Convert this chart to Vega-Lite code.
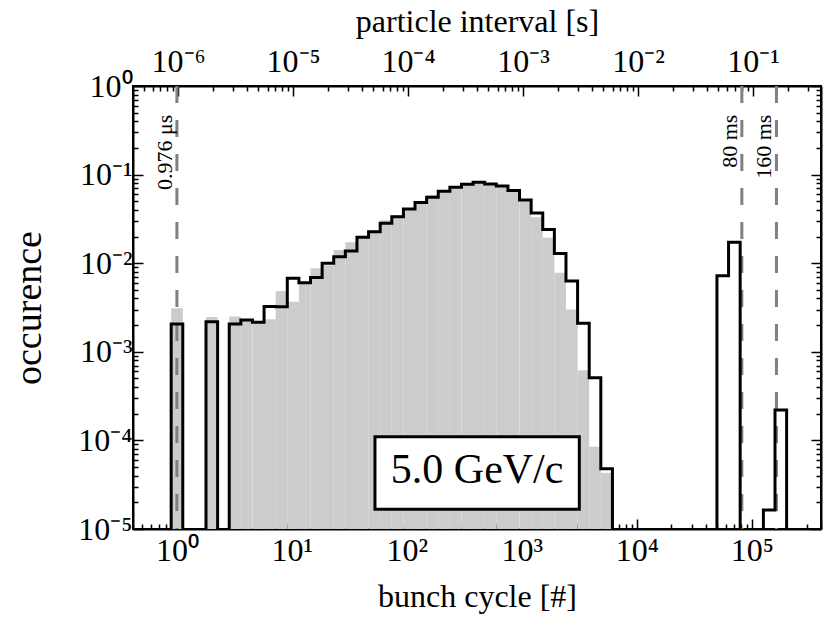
{
  "$schema": "https://vega.github.io/schema/vega-lite/v6.json",
  "width": 688,
  "height": 443,
  "autosize": {"type": "none"},
  "padding": {"left": 133, "top": 86, "right": 9, "bottom": 94},
  "background": "white",
  "config": {
    "view": {"stroke": "black", "strokeWidth": 2},
    "font": "Liberation Serif",
    "axis": {
      "domainColor": "black", "domainWidth": 2, "tickColor": "black", "tickWidth": 1.5,
      "labelFont": "Liberation Serif", "labelFontSize": 32, "labelColor": "black",
      "titleFont": "Liberation Serif", "titleFontSize": 32, "titleFontWeight": "normal", "titleColor": "black",
      "grid": false, "labelFlush": false, "labelOverlap": false, "labelBound": false
    }
  },
  "datasets": {
    "hist": [
      {"lo": 0.7063, "hi": 0.8913, "gray": null, "black": 1e-7},
      {"lo": 0.8913, "hi": 1.1246, "gray": 3.1e-3, "black": 2.06e-3},
      {"lo": 1.1246, "hi": 1.4191, "gray": null, "black": 1e-7},
      {"lo": 1.4191, "hi": 1.7906, "gray": null, "black": 1e-7},
      {"lo": 1.7906, "hi": 2.2594, "gray": 2.47e-3, "black": 2.19e-3},
      {"lo": 2.2594, "hi": 2.851, "gray": null, "black": 1e-7},
      {"lo": 2.851, "hi": 3.5975, "gray": 2.5e-3, "black": 2.06e-3},
      {"lo": 3.5975, "hi": 4.5394, "gray": 2.3e-3, "black": 2.29e-3},
      {"lo": 4.5394, "hi": 5.728, "gray": 2.2e-3, "black": 2.15e-3},
      {"lo": 5.728, "hi": 7.2277, "gray": 2.33e-3, "black": 3.25e-3},
      {"lo": 7.2277, "hi": 9.1201, "gray": 4.85e-3, "black": 3.23e-3},
      {"lo": 9.1201, "hi": 11.508, "gray": 3.68e-3, "black": 6.75e-3},
      {"lo": 11.508, "hi": 14.521, "gray": 5.9e-3, "black": 6.03e-3},
      {"lo": 14.521, "hi": 18.323, "gray": 8.75e-3, "black": 6.9e-3},
      {"lo": 18.323, "hi": 23.121, "gray": 9.5e-3, "black": 9.97e-3},
      {"lo": 23.121, "hi": 29.174, "gray": 1.41e-2, "black": 1.18e-2},
      {"lo": 29.174, "hi": 36.813, "gray": 1.72e-2, "black": 1.37e-2},
      {"lo": 36.813, "hi": 46.452, "gray": 2.0e-2, "black": 1.96e-2},
      {"lo": 46.452, "hi": 58.614, "gray": 2.33e-2, "black": 2.27e-2},
      {"lo": 58.614, "hi": 73.961, "gray": 3.05e-2, "black": 2.82e-2},
      {"lo": 73.961, "hi": 93.325, "gray": 3.5e-2, "black": 3.35e-2},
      {"lo": 93.325, "hi": 117.76, "gray": 4.15e-2, "black": 4.1e-2},
      {"lo": 117.76, "hi": 148.59, "gray": 4.95e-2, "black": 4.84e-2},
      {"lo": 148.59, "hi": 187.5, "gray": 5.9e-2, "black": 5.55e-2},
      {"lo": 187.5, "hi": 236.59, "gray": 6.6e-2, "black": 6.5e-2},
      {"lo": 236.59, "hi": 298.54, "gray": 7.2e-2, "black": 7.18e-2},
      {"lo": 298.54, "hi": 376.7, "gray": 7.8e-2, "black": 7.77e-2},
      {"lo": 376.7, "hi": 475.34, "gray": 8.1e-2, "black": 8.18e-2},
      {"lo": 475.34, "hi": 599.79, "gray": 7.8e-2, "black": 7.83e-2},
      {"lo": 599.79, "hi": 756.83, "gray": 7.4e-2, "black": 7.45e-2},
      {"lo": 756.83, "hi": 954.99, "gray": 6.5e-2, "black": 6.6e-2},
      {"lo": 954.99, "hi": 1205, "gray": 5.0e-2, "black": 5.17e-2},
      {"lo": 1205, "hi": 1520.5, "gray": 3.3e-2, "black": 3.69e-2},
      {"lo": 1520.5, "hi": 1918.7, "gray": 1.94e-2, "black": 2.4e-2},
      {"lo": 1918.7, "hi": 2421, "gray": 7.8e-3, "black": 1.29e-2},
      {"lo": 2421, "hi": 3054.9, "gray": 3.0e-3, "black": 6.3e-3},
      {"lo": 3054.9, "hi": 3854.8, "gray": 6.2e-4, "black": 2.1e-3},
      {"lo": 3854.8, "hi": 4864.2, "gray": 8.5e-5, "black": 5.1e-4},
      {"lo": 4864.2, "hi": 6137.7, "gray": 4.3e-5, "black": 4.8e-5},
      {"lo": 6137.7, "hi": 7744.6, "gray": null, "black": 1e-7},
      {"lo": 7744.6, "hi": 9772.4, "gray": null, "black": 1e-7},
      {"lo": 9772.4, "hi": 12331, "gray": null, "black": 1e-7},
      {"lo": 12331, "hi": 15560, "gray": null, "black": 1e-7},
      {"lo": 15560, "hi": 19634, "gray": null, "black": 1e-7},
      {"lo": 19634, "hi": 24774, "gray": null, "black": 1e-7},
      {"lo": 24774, "hi": 31261, "gray": null, "black": 1e-7},
      {"lo": 31261, "hi": 39446, "gray": null, "black": 1e-7},
      {"lo": 39446, "hi": 49774, "gray": null, "black": 1e-7},
      {"lo": 49774, "hi": 62806, "gray": null, "black": 7.23e-3},
      {"lo": 62806, "hi": 79250, "gray": null, "black": 1.72e-2},
      {"lo": 79250, "hi": 100000, "gray": null, "black": 1e-7},
      {"lo": 100000, "hi": 126183, "gray": null, "black": 1e-7},
      {"lo": 126183, "hi": 159221, "gray": null, "black": 1.64e-5},
      {"lo": 159221, "hi": 200909, "gray": null, "black": 2.2e-4},
      {"lo": 200909, "hi": 253513, "gray": null, "black": 1e-7},
      {"lo": 253513, "hi": 319890, "gray": null, "black": 1e-7},
      {"lo": 319890, "hi": 403645, "gray": null, "black": 1e-7}
    ],
    "intervals": [
      {"t": 9.76e-7, "label": "0.976 μs"},
      {"t": 0.08, "label": "80 ms"},
      {"t": 0.16, "label": "160 ms"}
    ]
  },
  "layer": [
    {
      "data": {"name": "hist"},
      "mark": {"type": "rect", "color": "#cccccc", "clip": true},
      "encoding": {
        "x": {
          "field": "lo", "type": "quantitative",
          "scale": {"type": "log", "domain": [0.415, 400000], "nice": false},
          "axis": {
            "orient": "bottom",
            "title": "bunch cycle [#]",
            "values": [0.5,0.6,0.7,0.8,0.9,1,2,3,4,5,6,7,8,9,10,20,30,40,50,60,70,80,90,100,200,300,400,500,600,700,800,900,1000,2000,3000,4000,5000,6000,7000,8000,9000,10000,20000,30000,40000,50000,60000,70000,80000,90000,100000,200000,300000,400000],
            "labelExpr": "abs(log(datum.value)/LN10 - round(log(datum.value)/LN10)) > 0.01 ? '' : (round(log(datum.value)/LN10) < 0 ? '10⁻' + substring('⁰¹²³⁴⁵⁶⁷⁸⁹', -round(log(datum.value)/LN10), 1 - round(log(datum.value)/LN10)) : '10' + substring('⁰¹²³⁴⁵⁶⁷⁸⁹', round(log(datum.value)/LN10), 1 + round(log(datum.value)/LN10)))",
            "tickSize": {"condition": {"test": "abs(log(datum.value)/LN10 - round(log(datum.value)/LN10)) < 0.01", "value": -10}, "value": -5},
            "labelPadding": 16,
            "titlePadding": 10
          }
        },
        "x2": {"field": "hi"},
        "y": {
          "field": "gray", "type": "quantitative",
          "scale": {"type": "log", "domain": [0.00001, 1], "nice": false},
          "axis": {
            "orient": "left",
            "title": "occurence",
            "titleFontSize": 38,
            "values": [0.00001,0.00002,0.00003,0.00004,0.00005,0.00006,0.00007,0.00008,0.00009,0.0001,0.0002,0.0003,0.0004,0.0005,0.0006,0.0007,0.0008,0.0009,0.001,0.002,0.003,0.004,0.005,0.006,0.007,0.008,0.009,0.01,0.02,0.03,0.04,0.05,0.06,0.07,0.08,0.09,0.1,0.2,0.3,0.4,0.5,0.6,0.7,0.8,0.9,1],
            "labelExpr": "abs(log(datum.value)/LN10 - round(log(datum.value)/LN10)) > 0.01 ? '' : (round(log(datum.value)/LN10) < 0 ? '10⁻' + substring('⁰¹²³⁴⁵⁶⁷⁸⁹', -round(log(datum.value)/LN10), 1 - round(log(datum.value)/LN10)) : '10' + substring('⁰¹²³⁴⁵⁶⁷⁸⁹', round(log(datum.value)/LN10), 1 + round(log(datum.value)/LN10)))",
            "tickSize": {"condition": {"test": "abs(log(datum.value)/LN10 - round(log(datum.value)/LN10)) < 0.01", "value": -10}, "value": -5},
            "labelPadding": 11,
            "titlePadding": 29
          }
        },
        "y2": {"datum": 0.00001}
      }
    },
    {
      "data": {"name": "intervals"},
      "layer": [
        {
          "mark": {"type": "rule", "color": "#808080", "strokeWidth": 3, "strokeDash": [17, 17]},
          "encoding": {
            "x": {
              "field": "t", "type": "quantitative",
              "scale": {"type": "log", "domain": [4.0504e-7, 0.3904], "nice": false},
              "axis": {
                "orient": "top",
                "title": "particle interval [s]",
                "titleFontSize": 32,
                "values": [5e-7,6e-7,7e-7,8e-7,9e-7,1e-6,2e-6,3e-6,4e-6,5e-6,6e-6,7e-6,8e-6,9e-6,1e-5,2e-5,3e-5,4e-5,5e-5,6e-5,7e-5,8e-5,9e-5,0.0001,0.0002,0.0003,0.0004,0.0005,0.0006,0.0007,0.0008,0.0009,0.001,0.002,0.003,0.004,0.005,0.006,0.007,0.008,0.009,0.01,0.02,0.03,0.04,0.05,0.06,0.07,0.08,0.09,0.1,0.2,0.3],
                "labelExpr": "abs(log(datum.value)/LN10 - round(log(datum.value)/LN10)) > 0.01 ? '' : (round(log(datum.value)/LN10) < 0 ? '10⁻' + substring('⁰¹²³⁴⁵⁶⁷⁸⁹', -round(log(datum.value)/LN10), 1 - round(log(datum.value)/LN10)) : '10' + substring('⁰¹²³⁴⁵⁶⁷⁸⁹', round(log(datum.value)/LN10), 1 + round(log(datum.value)/LN10)))",
                "tickSize": {"condition": {"test": "abs(log(datum.value)/LN10 - round(log(datum.value)/LN10)) < 0.01", "value": -10}, "value": -5},
                "labelPadding": 18,
                "titlePadding": 2
              }
            }
          }
        },
        {
          "mark": {"type": "text", "angle": 270, "align": "right", "baseline": "bottom", "fontSize": 22, "font": "Liberation Serif", "dx": -2, "color": "black"},
          "encoding": {
            "x": {"field": "t", "type": "quantitative"},
            "y": {
              "datum": 0.5, "type": "quantitative",
              "scale": {"type": "log", "domain": [0.00001, 1], "nice": false},
              "axis": {
                "orient": "right",
                "title": null,
                "labels": false,
                "values": [0.00001,0.00002,0.00003,0.00004,0.00005,0.00006,0.00007,0.00008,0.00009,0.0001,0.0002,0.0003,0.0004,0.0005,0.0006,0.0007,0.0008,0.0009,0.001,0.002,0.003,0.004,0.005,0.006,0.007,0.008,0.009,0.01,0.02,0.03,0.04,0.05,0.06,0.07,0.08,0.09,0.1,0.2,0.3,0.4,0.5,0.6,0.7,0.8,0.9,1],
                "tickSize": {"condition": {"test": "abs(log(datum.value)/LN10 - round(log(datum.value)/LN10)) < 0.01", "value": -10}, "value": -5}
              }
            },
            "text": {"field": "label"}
          }
        }
      ]
    },
    {
      "layer": [
        {
          "data": {"name": "hist"},
          "mark": {"type": "line", "color": "black", "strokeWidth": 3, "interpolate": "step-after", "clip": true, "strokeJoin": "miter"},
          "encoding": {
            "x": {"field": "lo", "type": "quantitative", "scale": {"type": "log", "domain": [0.415, 400000], "nice": false}, "axis": null},
            "y": {"field": "black", "type": "quantitative", "scale": {"type": "log", "domain": [0.00001, 1], "nice": false}, "axis": null}
          }
        },
        {
          "data": {"values": [{"label": "5.0 GeV/c"}]},
          "mark": {"type": "rect", "fill": "white", "stroke": "black", "strokeWidth": 3},
          "encoding": {
            "x": {"datum": 52.8, "type": "quantitative"},
            "x2": {"datum": 3161},
            "y": {"datum": 0.00001668, "type": "quantitative"},
            "y2": {"datum": 0.0001101}
          }
        },
        {
          "data": {"values": [{"label": "5.0 GeV/c"}]},
          "mark": {"type": "text", "fontSize": 42, "font": "Liberation Serif", "baseline": "alphabetic", "align": "center", "color": "black"},
          "encoding": {
            "x": {"datum": 408.5, "type": "quantitative"},
            "y": {"datum": 0.0000328, "type": "quantitative"},
            "text": {"field": "label"}
          }
        }
      ]
    }
  ],
  "resolve": {"scale": {"x": "independent"}, "axis": {"x": "independent", "y": "independent"}}
}
